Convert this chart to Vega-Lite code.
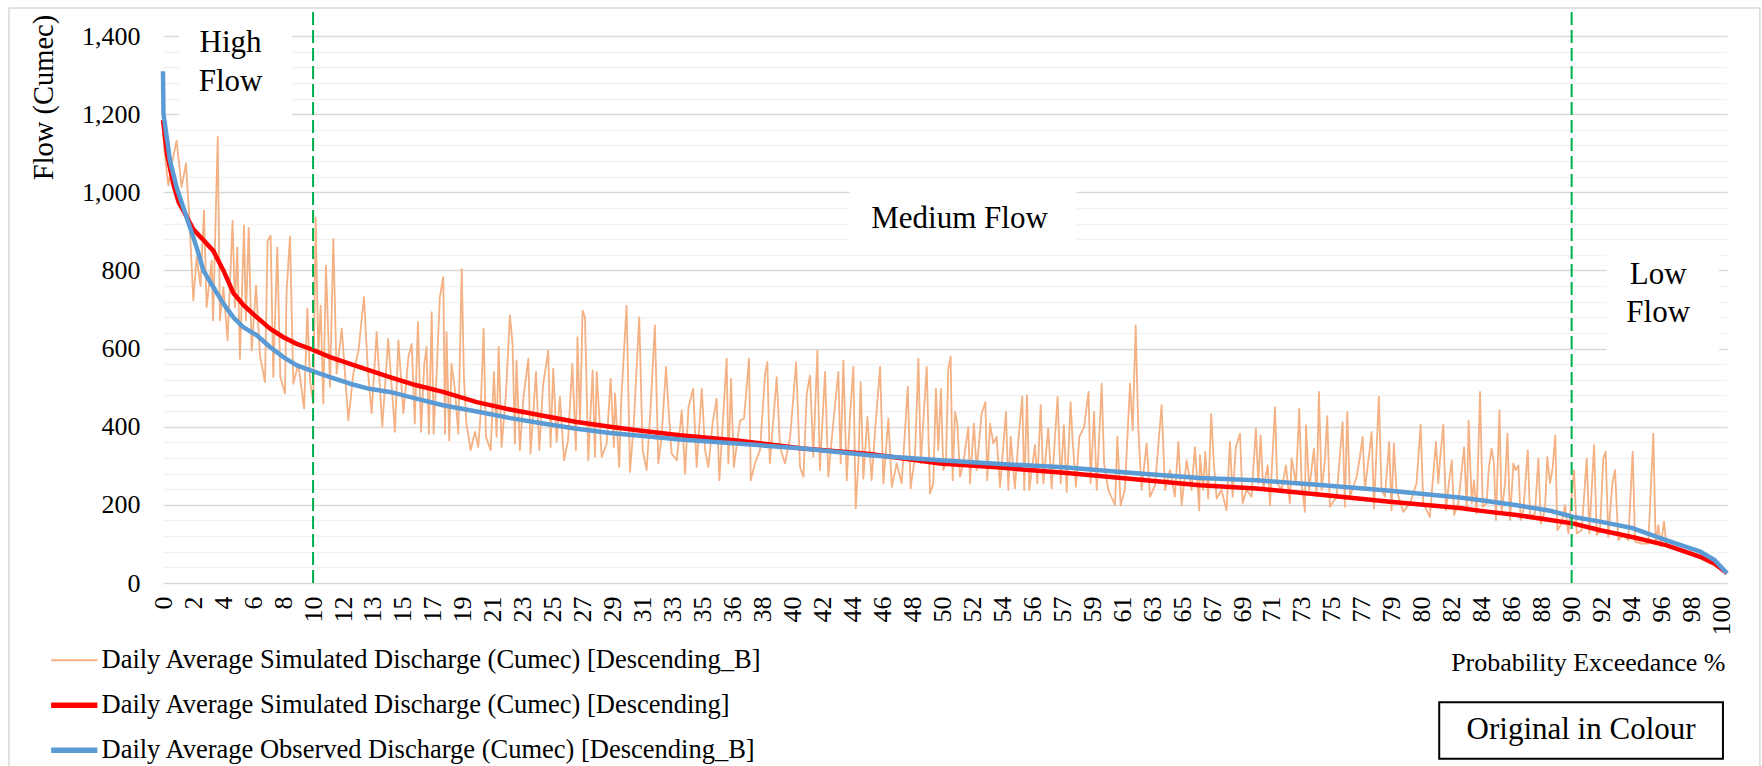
{
"$schema": "https://vega.github.io/schema/vega-lite/v6.json",
"width": 1564, "height": 547,
"autosize": {"type": "none"},
"padding": {"left": 163, "top": 36, "right": 35, "bottom": 183},
"background": "white",
"config": {"view": {"stroke": null}, "font": "Liberation Serif"},
"datasets": {
"flow": [
{"p":0,"q":1150,"s":"B"},{"p":0.15,"q":1085,"s":"B"},{"p":0.34,"q":1017,"s":"B"},{"p":0.55,"q":1070,"s":"B"},{"p":0.87,"q":1132,"s":"B"},{"p":1.19,"q":1013,"s":"B"},{"p":1.47,"q":1074,"s":"B"},{"p":1.68,"q":936,"s":"B"},{"p":1.94,"q":723,"s":"B"},{"p":2.15,"q":834,"s":"B"},{"p":2.4,"q":760,"s":"B"},{"p":2.62,"q":953,"s":"B"},{"p":2.79,"q":706,"s":"B"},{"p":3.11,"q":825,"s":"B"},{"p":3.2,"q":672,"s":"B"},{"p":3.5,"q":1142,"s":"B"},{"p":3.64,"q":672,"s":"B"},{"p":3.86,"q":757,"s":"B"},{"p":4.13,"q":621,"s":"B"},{"p":4.45,"q":927,"s":"B"},{"p":4.6,"q":706,"s":"B"},{"p":4.75,"q":859,"s":"B"},{"p":4.92,"q":574,"s":"B"},{"p":5.18,"q":915,"s":"B"},{"p":5.3,"q":672,"s":"B"},{"p":5.48,"q":909,"s":"B"},{"p":5.67,"q":595,"s":"B"},{"p":5.95,"q":761,"s":"B"},{"p":6.2,"q":583,"s":"B"},{"p":6.52,"q":514,"s":"B"},{"p":6.69,"q":875,"s":"B"},{"p":6.88,"q":889,"s":"B"},{"p":7.05,"q":527,"s":"B"},{"p":7.31,"q":859,"s":"B"},{"p":7.5,"q":527,"s":"B"},{"p":7.8,"q":485,"s":"B"},{"p":7.9,"q":744,"s":"B"},{"p":8.12,"q":887,"s":"B"},{"p":8.33,"q":510,"s":"B"},{"p":8.65,"q":561,"s":"B"},{"p":9.02,"q":446,"s":"B"},{"p":9.23,"q":702,"s":"B"},{"p":9.4,"q":519,"s":"B"},{"p":9.61,"q":459,"s":"B"},{"p":9.76,"q":936,"s":"B"},{"p":9.93,"q":587,"s":"B"},{"p":10.08,"q":710,"s":"B"},{"p":10.25,"q":459,"s":"B"},{"p":10.42,"q":812,"s":"B"},{"p":10.68,"q":502,"s":"B"},{"p":10.89,"q":881,"s":"B"},{"p":11.1,"q":536,"s":"B"},{"p":11.43,"q":651,"s":"B"},{"p":11.85,"q":416,"s":"B"},{"p":12.17,"q":536,"s":"B"},{"p":12.5,"q":595,"s":"B"},{"p":12.85,"q":732,"s":"B"},{"p":13.1,"q":544,"s":"B"},{"p":13.34,"q":434,"s":"B"},{"p":13.66,"q":642,"s":"B"},{"p":14.02,"q":400,"s":"B"},{"p":14.4,"q":625,"s":"B"},{"p":14.83,"q":387,"s":"B"},{"p":15.05,"q":621,"s":"B"},{"p":15.37,"q":434,"s":"B"},{"p":15.69,"q":578,"s":"B"},
{"p":15.9,"q":612,"s":"B"},{"p":16.1,"q":408,"s":"B"},{"p":16.3,"q":668,"s":"B"},{"p":16.5,"q":387,"s":"B"},{"p":16.7,"q":557,"s":"B"},{"p":16.85,"q":604,"s":"B"},{"p":17.0,"q":382,"s":"B"},{"p":17.18,"q":693,"s":"B"},{"p":17.3,"q":382,"s":"B"},{"p":17.5,"q":540,"s":"B"},{"p":17.7,"q":731,"s":"B"},{"p":17.92,"q":783,"s":"B"},{"p":18.03,"q":382,"s":"B"},{"p":18.13,"q":642,"s":"B"},{"p":18.3,"q":365,"s":"B"},{"p":18.45,"q":561,"s":"B"},{"p":18.67,"q":493,"s":"B"},{"p":18.88,"q":382,"s":"B"},{"p":19.1,"q":804,"s":"B"},{"p":19.24,"q":527,"s":"B"},{"p":19.4,"q":408,"s":"B"},{"p":19.67,"q":340,"s":"B"},{"p":19.95,"q":387,"s":"B"},{"p":20.16,"q":348,"s":"B"},{"p":20.3,"q":429,"s":"B"},{"p":20.5,"q":651,"s":"B"},{"p":20.65,"q":374,"s":"B"},{"p":20.95,"q":340,"s":"B"},{"p":21.16,"q":540,"s":"B"},{"p":21.33,"q":374,"s":"B"},{"p":21.46,"q":604,"s":"B"},{"p":21.65,"q":348,"s":"B"},{"p":21.93,"q":485,"s":"B"},{"p":22.18,"q":685,"s":"B"},{"p":22.35,"q":612,"s":"B"},{"p":22.5,"q":357,"s":"B"},{"p":22.6,"q":570,"s":"B"},{"p":22.82,"q":340,"s":"B"},{"p":23.04,"q":472,"s":"B"},{"p":23.36,"q":574,"s":"B"},{"p":23.5,"q":331,"s":"B"},{"p":23.85,"q":540,"s":"B"},{"p":24.06,"q":340,"s":"B"},{"p":24.3,"q":506,"s":"B"},{"p":24.63,"q":595,"s":"B"},{"p":24.78,"q":348,"s":"B"},{"p":24.95,"q":548,"s":"B"},{"p":25.17,"q":361,"s":"B"},{"p":25.38,"q":476,"s":"B"},{"p":25.64,"q":314,"s":"B"},{"p":25.9,"q":365,"s":"B"},{"p":26.17,"q":561,"s":"B"},{"p":26.4,"q":340,"s":"B"},{"p":26.5,"q":629,"s":"B"},{"p":26.66,"q":408,"s":"B"},{"p":26.83,"q":697,"s":"B"},{"p":26.98,"q":680,"s":"B"},{"p":27.19,"q":314,"s":"B"},{"p":27.47,"q":544,"s":"B"},{"p":27.62,"q":323,"s":"B"},{"p":27.73,"q":540,"s":"B"},{"p":28.05,"q":323,"s":"B"},{"p":28.37,"q":357,"s":"B"},{"p":28.62,"q":523,"s":"B"},{"p":28.83,"q":348,"s":"B"},{"p":28.9,"q":485,"s":"B"},{"p":29.17,"q":297,"s":"B"},{"p":29.3,"q":468,"s":"B"},{"p":29.64,"q":710,"s":"B"},{"p":29.86,"q":284,"s":"B"},{"p":30.1,"q":408,"s":"B"},{"p":30.45,"q":680,"s":"B"},{"p":30.67,"q":340,"s":"B"},{"p":30.92,"q":289,"s":"B"},{"p":31.18,"q":450,"s":"B"},{"p":31.45,"q":659,"s":"B"},{"p":31.67,"q":306,"s":"B"},{"p":31.88,"q":374,"s":"B"},{"p":32.16,"q":553,"s":"B"},{"p":32.33,"q":442,"s":"B"},{"p":32.52,"q":331,"s":"B"},
{"p":32.85,"q":314,"s":"B"},{"p":33.17,"q":442,"s":"B"},{"p":33.38,"q":280,"s":"B"},{"p":33.6,"q":450,"s":"B"},{"p":33.9,"q":497,"s":"B"},{"p":34.12,"q":297,"s":"B"},{"p":34.45,"q":497,"s":"B"},{"p":34.66,"q":340,"s":"B"},{"p":34.87,"q":297,"s":"B"},{"p":35.15,"q":412,"s":"B"},{"p":35.4,"q":472,"s":"B"},{"p":35.57,"q":263,"s":"B"},{"p":35.8,"q":412,"s":"B"},{"p":36.04,"q":574,"s":"B"},{"p":36.15,"q":306,"s":"B"},{"p":36.32,"q":523,"s":"B"},{"p":36.5,"q":297,"s":"B"},{"p":36.9,"q":416,"s":"B"},{"p":37.15,"q":421,"s":"B"},{"p":37.47,"q":574,"s":"B"},{"p":37.58,"q":263,"s":"B"},{"p":37.85,"q":306,"s":"B"},{"p":38.17,"q":340,"s":"B"},{"p":38.5,"q":536,"s":"B"},{"p":38.64,"q":565,"s":"B"},{"p":38.8,"q":306,"s":"B"},{"p":39.24,"q":527,"s":"B"},{"p":39.45,"q":348,"s":"B"},{"p":39.77,"q":306,"s":"B"},{"p":40.1,"q":374,"s":"B"},{"p":40.48,"q":565,"s":"B"},{"p":40.73,"q":297,"s":"B"},{"p":40.95,"q":272,"s":"B"},{"p":41.16,"q":485,"s":"B"},{"p":41.37,"q":531,"s":"B"},{"p":41.58,"q":323,"s":"B"},{"p":41.84,"q":595,"s":"B"},{"p":42.0,"q":289,"s":"B"},{"p":42.33,"q":540,"s":"B"},{"p":42.54,"q":272,"s":"B"},{"p":42.86,"q":412,"s":"B"},{"p":43.18,"q":540,"s":"B"},{"p":43.33,"q":306,"s":"B"},{"p":43.5,"q":570,"s":"B"},{"p":43.72,"q":263,"s":"B"},{"p":43.93,"q":429,"s":"B"},{"p":44.14,"q":553,"s":"B"},{"p":44.29,"q":191,"s":"B"},{"p":44.46,"q":306,"s":"B"},{"p":44.61,"q":514,"s":"B"},{"p":44.78,"q":267,"s":"B"},{"p":45.04,"q":425,"s":"B"},{"p":45.31,"q":263,"s":"B"},{"p":45.53,"q":391,"s":"B"},{"p":45.85,"q":553,"s":"B"},{"p":46.06,"q":255,"s":"B"},{"p":46.38,"q":421,"s":"B"},{"p":46.6,"q":246,"s":"B"},{"p":46.91,"q":306,"s":"B"},{"p":47.23,"q":255,"s":"B"},{"p":47.62,"q":502,"s":"B"},{"p":47.8,"q":242,"s":"B"},{"p":48.08,"q":323,"s":"B"},{"p":48.3,"q":574,"s":"B"},{"p":48.45,"q":306,"s":"B"},{"p":48.83,"q":553,"s":"B"},{"p":49.04,"q":229,"s":"B"},
{"p":49.25,"q":255,"s":"B"},{"p":49.42,"q":497,"s":"B"},{"p":49.57,"q":340,"s":"B"},{"p":49.74,"q":497,"s":"B"},{"p":49.89,"q":289,"s":"B"},{"p":50.06,"q":306,"s":"B"},{"p":50.21,"q":548,"s":"B"},{"p":50.36,"q":580,"s":"B"},{"p":50.49,"q":263,"s":"B"},{"p":50.64,"q":438,"s":"B"},{"p":50.79,"q":408,"s":"B"},{"p":50.96,"q":272,"s":"B"},{"p":51.17,"q":306,"s":"B"},{"p":51.49,"q":399,"s":"B"},{"p":51.6,"q":255,"s":"B"},{"p":51.85,"q":408,"s":"B"},{"p":52.02,"q":289,"s":"B"},{"p":52.34,"q":433,"s":"B"},{"p":52.58,"q":463,"s":"B"},{"p":52.7,"q":263,"s":"B"},{"p":52.88,"q":408,"s":"B"},{"p":53.09,"q":357,"s":"B"},{"p":53.3,"q":374,"s":"B"},{"p":53.52,"q":246,"s":"B"},{"p":53.9,"q":438,"s":"B"},{"p":54.05,"q":238,"s":"B"},{"p":54.2,"q":374,"s":"B"},{"p":54.47,"q":242,"s":"B"},{"p":54.71,"q":374,"s":"B"},{"p":54.94,"q":478,"s":"B"},{"p":55.07,"q":238,"s":"B"},{"p":55.24,"q":480,"s":"B"},{"p":55.39,"q":238,"s":"B"},{"p":55.75,"q":353,"s":"B"},{"p":55.9,"q":255,"s":"B"},{"p":56.12,"q":455,"s":"B"},{"p":56.29,"q":255,"s":"B"},{"p":56.6,"q":395,"s":"B"},{"p":56.82,"q":242,"s":"B"},{"p":57.2,"q":476,"s":"B"},{"p":57.4,"q":255,"s":"B"},{"p":57.6,"q":404,"s":"B"},{"p":57.78,"q":233,"s":"B"},{"p":58.03,"q":463,"s":"B"},{"p":58.16,"q":365,"s":"B"},{"p":58.37,"q":246,"s":"B"},{"p":58.59,"q":374,"s":"B"},{"p":58.89,"q":399,"s":"B"},{"p":59.18,"q":489,"s":"B"},{"p":59.31,"q":255,"s":"B"},{"p":59.53,"q":438,"s":"B"},{"p":59.7,"q":238,"s":"B"},{"p":60.02,"q":510,"s":"B"},{"p":60.17,"q":306,"s":"B"},{"p":60.44,"q":238,"s":"B"},{"p":60.87,"q":199,"s":"B"},{"p":61.02,"q":374,"s":"B"},{"p":61.23,"q":199,"s":"B"},{"p":61.5,"q":238,"s":"B"},{"p":61.83,"q":510,"s":"B"},{"p":62.0,"q":391,"s":"B"},{"p":62.19,"q":659,"s":"B"},{"p":62.36,"q":395,"s":"B"},{"p":62.57,"q":238,"s":"B"},{"p":62.89,"q":357,"s":"B"},{"p":63.11,"q":221,"s":"B"},{"p":63.43,"q":250,"s":"B"},{"p":63.85,"q":455,"s":"B"},{"p":64.07,"q":238,"s":"B"},{"p":64.39,"q":289,"s":"B"},{"p":64.7,"q":221,"s":"B"},{"p":64.92,"q":361,"s":"B"},{"p":65.13,"q":199,"s":"B"},{"p":65.45,"q":314,"s":"B"},{"p":65.77,"q":238,"s":"B"},{"p":65.98,"q":348,"s":"B"},{"p":66.26,"q":186,"s":"B"},
{"p":66.3,"q":327,"s":"B"},{"p":66.51,"q":238,"s":"B"},{"p":66.64,"q":336,"s":"B"},{"p":66.83,"q":216,"s":"B"},{"p":67.02,"q":433,"s":"B"},{"p":67.19,"q":306,"s":"B"},{"p":67.37,"q":216,"s":"B"},{"p":67.68,"q":238,"s":"B"},{"p":68.0,"q":186,"s":"B"},{"p":68.22,"q":361,"s":"B"},{"p":68.39,"q":221,"s":"B"},{"p":68.6,"q":348,"s":"B"},{"p":68.86,"q":382,"s":"B"},{"p":69.03,"q":204,"s":"B"},{"p":69.28,"q":238,"s":"B"},{"p":69.6,"q":221,"s":"B"},{"p":69.88,"q":395,"s":"B"},{"p":70.03,"q":255,"s":"B"},{"p":70.18,"q":378,"s":"B"},{"p":70.35,"q":238,"s":"B"},{"p":70.63,"q":301,"s":"B"},{"p":70.78,"q":199,"s":"B"},{"p":71.1,"q":450,"s":"B"},{"p":71.24,"q":255,"s":"B"},{"p":71.52,"q":238,"s":"B"},{"p":71.8,"q":301,"s":"B"},{"p":72.05,"q":204,"s":"B"},{"p":72.16,"q":319,"s":"B"},{"p":72.44,"q":255,"s":"B"},{"p":72.65,"q":446,"s":"B"},{"p":72.8,"q":255,"s":"B"},{"p":73.01,"q":182,"s":"B"},{"p":73.08,"q":404,"s":"B"},{"p":73.29,"q":238,"s":"B"},{"p":73.59,"q":344,"s":"B"},{"p":73.76,"q":221,"s":"B"},{"p":73.91,"q":489,"s":"B"},{"p":74.08,"q":238,"s":"B"},{"p":74.29,"q":314,"s":"B"},{"p":74.44,"q":427,"s":"B"},{"p":74.61,"q":195,"s":"B"},{"p":75.04,"q":221,"s":"B"},{"p":75.42,"q":412,"s":"B"},{"p":75.57,"q":195,"s":"B"},{"p":75.72,"q":438,"s":"B"},{"p":75.89,"q":221,"s":"B"},{"p":76.32,"q":272,"s":"B"},{"p":76.53,"q":323,"s":"B"},{"p":76.7,"q":374,"s":"B"},{"p":76.85,"q":238,"s":"B"},{"p":77.28,"q":387,"s":"B"},{"p":77.43,"q":191,"s":"B"},{"p":77.74,"q":476,"s":"B"},{"p":77.91,"q":238,"s":"B"},{"p":78.13,"q":221,"s":"B"},{"p":78.4,"q":361,"s":"B"},{"p":78.55,"q":186,"s":"B"},{"p":78.7,"q":357,"s":"B"},{"p":78.87,"q":238,"s":"B"},{"p":79.3,"q":182,"s":"B"},{"p":79.73,"q":204,"s":"B"},{"p":80.15,"q":255,"s":"B"},{"p":80.41,"q":405,"s":"B"},{"p":80.58,"q":204,"s":"B"},{"p":81.0,"q":169,"s":"B"},{"p":81.39,"q":361,"s":"B"},{"p":81.54,"q":255,"s":"B"},{"p":81.65,"q":314,"s":"B"},{"p":81.86,"q":406,"s":"B"},{"p":82.03,"q":186,"s":"B"},{"p":82.2,"q":250,"s":"B"},
{"p":82.4,"q":314,"s":"B"},{"p":82.55,"q":174,"s":"B"},{"p":82.82,"q":204,"s":"B"},{"p":83.19,"q":348,"s":"B"},{"p":83.36,"q":186,"s":"B"},{"p":83.48,"q":415,"s":"B"},{"p":83.68,"q":204,"s":"B"},{"p":83.82,"q":263,"s":"B"},{"p":83.99,"q":178,"s":"B"},{"p":84.21,"q":489,"s":"B"},{"p":84.38,"q":195,"s":"B"},{"p":84.63,"q":204,"s":"B"},{"p":84.78,"q":297,"s":"B"},{"p":84.95,"q":344,"s":"B"},{"p":85.1,"q":306,"s":"B"},{"p":85.23,"q":161,"s":"B"},{"p":85.45,"q":442,"s":"B"},{"p":85.59,"q":178,"s":"B"},{"p":85.81,"q":255,"s":"B"},{"p":85.96,"q":382,"s":"B"},{"p":86.13,"q":161,"s":"B"},{"p":86.34,"q":306,"s":"B"},{"p":86.49,"q":289,"s":"B"},{"p":86.66,"q":301,"s":"B"},{"p":86.81,"q":161,"s":"B"},{"p":86.98,"q":186,"s":"B"},{"p":87.26,"q":340,"s":"B"},{"p":87.41,"q":169,"s":"B"},{"p":87.72,"q":178,"s":"B"},{"p":87.94,"q":319,"s":"B"},{"p":88.09,"q":152,"s":"B"},{"p":88.36,"q":186,"s":"B"},{"p":88.51,"q":323,"s":"B"},{"p":88.68,"q":255,"s":"B"},{"p":88.85,"q":293,"s":"B"},{"p":89.02,"q":378,"s":"B"},{"p":89.15,"q":135,"s":"B"},{"p":89.43,"q":152,"s":"B"},{"p":89.64,"q":199,"s":"B"},{"p":89.86,"q":127,"s":"B"},{"p":90.22,"q":289,"s":"B"},{"p":90.39,"q":127,"s":"B"},{"p":90.71,"q":135,"s":"B"},{"p":91.03,"q":319,"s":"B"},{"p":91.2,"q":127,"s":"B"},{"p":91.5,"q":353,"s":"B"},{"p":91.67,"q":123,"s":"B"},{"p":91.88,"q":135,"s":"B"},{"p":92.09,"q":319,"s":"B"},{"p":92.24,"q":336,"s":"B"},{"p":92.41,"q":118,"s":"B"},{"p":92.67,"q":255,"s":"B"},{"p":92.84,"q":289,"s":"B"},{"p":93.05,"q":110,"s":"B"},{"p":93.37,"q":123,"s":"B"},{"p":93.69,"q":110,"s":"B"},{"p":93.97,"q":336,"s":"B"},{"p":94.12,"q":106,"s":"B"},{"p":94.55,"q":101,"s":"B"},{"p":94.97,"q":101,"s":"B"},{"p":95.29,"q":382,"s":"B"},{"p":95.44,"q":101,"s":"B"},{"p":95.61,"q":148,"s":"B"},{"p":95.76,"q":93,"s":"B"},{"p":95.97,"q":157,"s":"B"},{"p":96.14,"q":93,"s":"B"},{"p":97.21,"q":80,"s":"B"},{"p":98.27,"q":63,"s":"B"},{"p":99.34,"q":42,"s":"B"},{"p":100,"q":25,"s":"B"},
{"p":0,"q":1185,"s":"S"},{"p":0.25,"q":1100,"s":"S"},{"p":0.66,"q":1021,"s":"S"},{"p":1.0,"q":975,"s":"S"},{"p":1.3,"q":953,"s":"S"},{"p":1.94,"q":905,"s":"S"},{"p":2.58,"q":878,"s":"S"},{"p":3.22,"q":850,"s":"S"},{"p":3.86,"q":800,"s":"S"},{"p":4.5,"q":742,"s":"S"},{"p":5.13,"q":712,"s":"S"},{"p":6.0,"q":680,"s":"S"},{"p":6.84,"q":651,"s":"S"},{"p":7.7,"q":629,"s":"S"},{"p":8.55,"q":612,"s":"S"},{"p":9.57,"q":597,"s":"S"},{"p":10.68,"q":578,"s":"S"},{"p":11.96,"q":561,"s":"S"},{"p":13.2,"q":544,"s":"S"},{"p":14.5,"q":527,"s":"S"},{"p":16.2,"q":506,"s":"S"},{"p":17.9,"q":489,"s":"S"},{"p":20.06,"q":463,"s":"S"},{"p":22.2,"q":444,"s":"S"},{"p":24.3,"q":428,"s":"S"},{"p":26.45,"q":412,"s":"S"},{"p":28.58,"q":400,"s":"S"},{"p":30.7,"q":389,"s":"S"},{"p":33.06,"q":378,"s":"S"},{"p":36.7,"q":365,"s":"S"},{"p":40.9,"q":344,"s":"S"},{"p":45.2,"q":330,"s":"S"},{"p":49.7,"q":306,"s":"S"},{"p":53.3,"q":296,"s":"S"},{"p":57.6,"q":282,"s":"S"},{"p":61.8,"q":267,"s":"S"},{"p":66.3,"q":250,"s":"S"},{"p":69.9,"q":242,"s":"S"},{"p":74.2,"q":225,"s":"S"},{"p":78.45,"q":208,"s":"S"},{"p":82.9,"q":192,"s":"S"},{"p":84.4,"q":184,"s":"S"},{"p":86.55,"q":174,"s":"S"},{"p":88.7,"q":161,"s":"S"},{"p":90.2,"q":152,"s":"S"},{"p":91.9,"q":135,"s":"S"},{"p":94.0,"q":117,"s":"S"},{"p":96.1,"q":97,"s":"S"},{"p":98.3,"q":67,"s":"S"},{"p":99.2,"q":50,"s":"S"},{"p":100,"q":25,"s":"S"},
{"p":0,"q":1310,"s":"O"},{"p":0.03,"q":1200,"s":"O"},{"p":0.45,"q":1081,"s":"O"},{"p":0.87,"q":1013,"s":"O"},{"p":1.3,"q":961,"s":"O"},{"p":1.73,"q":910,"s":"O"},{"p":2.15,"q":859,"s":"O"},{"p":2.58,"q":800,"s":"O"},{"p":3.22,"q":757,"s":"O"},{"p":3.86,"q":715,"s":"O"},{"p":4.5,"q":680,"s":"O"},{"p":5.13,"q":655,"s":"O"},{"p":6.0,"q":634,"s":"O"},{"p":6.84,"q":604,"s":"O"},{"p":7.7,"q":578,"s":"O"},{"p":8.55,"q":557,"s":"O"},{"p":9.57,"q":542,"s":"O"},{"p":10.68,"q":527,"s":"O"},{"p":11.96,"q":510,"s":"O"},{"p":13.2,"q":497,"s":"O"},{"p":14.5,"q":489,"s":"O"},{"p":16.2,"q":472,"s":"O"},{"p":17.9,"q":455,"s":"O"},{"p":20.06,"q":439,"s":"O"},{"p":22.2,"q":422,"s":"O"},{"p":24.3,"q":408,"s":"O"},{"p":26.45,"q":395,"s":"O"},{"p":28.58,"q":384,"s":"O"},{"p":30.7,"q":376,"s":"O"},{"p":33.06,"q":367,"s":"O"},{"p":36.7,"q":357,"s":"O"},{"p":40.9,"q":344,"s":"O"},{"p":45.2,"q":327,"s":"O"},{"p":49.7,"q":314,"s":"O"},{"p":53.3,"q":305,"s":"O"},{"p":57.6,"q":296,"s":"O"},{"p":61.8,"q":282,"s":"O"},{"p":66.3,"q":269,"s":"O"},{"p":69.9,"q":263,"s":"O"},{"p":74.2,"q":250,"s":"O"},{"p":78.45,"q":236,"s":"O"},{"p":82.9,"q":219,"s":"O"},{"p":84.4,"q":211,"s":"O"},{"p":86.55,"q":199,"s":"O"},{"p":88.7,"q":185,"s":"O"},{"p":90.2,"q":169,"s":"O"},{"p":91.9,"q":157,"s":"O"},{"p":94.0,"q":140,"s":"O"},{"p":96.1,"q":110,"s":"O"},{"p":98.3,"q":80,"s":"O"},{"p":99.2,"q":59,"s":"O"},{"p":100,"q":25,"s":"O"}
]},
"encoding": {
  "x": {"field": "p", "type": "quantitative",
    "scale": {"domain": [0, 100], "nice": false, "zero": false},
    "axis": {"values": [0.015,1.931,3.847,5.763,7.679,9.595,11.511,13.427,15.343,17.259,19.175,21.091,23.007,24.923,26.839,28.755,30.671,32.587,34.503,36.419,38.335,40.251,42.167,44.083,45.999,47.915,49.831,51.747,53.663,55.579,57.495,59.411,61.327,63.243,65.159,67.075,68.991,70.907,72.823,74.739,76.655,78.571,80.487,82.403,84.319,86.235,88.151,90.067,91.983,93.899,95.815,97.731,99.647],
      "format": ".0f", "labelAngle": -90, "labelAlign": "right", "labelBaseline": "middle", "labelPadding": 13,
      "ticks": false, "domain": false, "grid": false, "labelOverlap": false, "labelFlush": false,
      "labelFont": "Liberation Serif", "labelFontSize": 26, "labelColor": "#000",
      "title": "Probability Exceedance %", "titleFont": "Liberation Serif", "titleFontSize": 26, "titleFontWeight": "normal", "titleColor": "#000",
      "titleX": 1562, "titleY": 79, "titleAlign": "right", "titleBaseline": "middle"}},
  "y": {"field": "q", "type": "quantitative",
    "scale": {"domain": [0, 1400], "nice": false},
    "axis": {"values": [0,40,80,120,160,200,240,280,320,360,400,440,480,520,560,600,640,680,720,760,800,840,880,920,960,1000,1040,1080,1120,1160,1200,1240,1280,1320,1360,1400],
      "labelExpr": "datum.value % 200 === 0 ? format(datum.value, ',') : ''",
      "gridColor": {"condition": {"test": "datum.value % 200 === 0", "value": "#d9d9d9"}, "value": "#f2f2f2"},
      "gridWidth": 1.5, "domain": false, "ticks": false, "labelPadding": 23, "labelOverlap": false,
      "labelFont": "Liberation Serif", "labelFontSize": 26, "labelColor": "#000",
      "title": "Flow (Cumec)", "titleFont": "Liberation Serif", "titleFontSize": 28.5, "titleFontWeight": "normal", "titleColor": "#000",
      "titleX": -120, "titleY": 61, "titleAngle": 270, "titleAlign": "center", "titleBaseline": "middle"}}
},
"layer": [
  {"data": {"values": [{"p": -9.85, "p2": 102.1, "q": 1471.6, "q2": -503}]},
   "mark": {"type": "rect", "fill": "white", "fillOpacity": 0, "stroke": "#d9d9d9", "strokeWidth": 1.5},
   "encoding": {"x2": {"field": "p2"}, "y2": {"field": "q2"}}},
  {"data": {"values": [{"p": 1.02, "p2": 8.25, "q": 1180, "q2": 1410}, {"p": 43.9, "p2": 58.4, "q": 850, "q2": 1020}, {"p": 92.3, "p2": 99.5, "q": 585, "q2": 850}]},
   "mark": {"type": "rect", "fill": "white"},
   "encoding": {"x2": {"field": "p2"}, "y2": {"field": "q2"}}},
  {"data": {"name": "flow"}, "transform": [{"filter": "datum.s === 'B'"}],
   "mark": {"type": "line", "strokeWidth": 1.8, "strokeJoin": "round"},
   "encoding": {"color": {"field": "s", "type": "nominal", "scale": {"domain": ["B", "S", "O"], "range": ["#F4B183", "#FF0000", "#5B9BD5"]},
     "legend": {"title": null, "orient": "none", "legendX": -102, "legendY": 611, "direction": "vertical",
       "labelFont": "Liberation Serif", "labelFontSize": 26.5, "labelColor": "#000", "labelLimit": 1000,
       "symbolType": "M-2.2,0H2.2", "symbolSize": 441, "labelOffset": 14, "rowPadding": 18, "padding": 0,
       "labelExpr": "datum.label === 'B' ? 'Daily Average Simulated Discharge (Cumec) [Descending_B]' : datum.label === 'S' ? 'Daily Average Simulated Discharge (Cumec) [Descending]' : 'Daily Average Observed Discharge (Cumec) [Descending_B]'",
       "encode": {"symbols": {"update": {"strokeWidth": {"signal": "datum.value === 'B' ? 2.2 : 5.5"}}}}}}}},
  {"data": {"name": "flow"}, "transform": [{"filter": "datum.s === 'S'"}],
   "mark": {"type": "line", "strokeWidth": 4.5, "strokeJoin": "round"},
   "encoding": {"color": {"field": "s", "type": "nominal", "legend": null}}},
  {"data": {"name": "flow"}, "transform": [{"filter": "datum.s === 'O'"}],
   "mark": {"type": "line", "strokeWidth": 4.5, "strokeJoin": "round"},
   "encoding": {"color": {"field": "s", "type": "nominal", "legend": null}}},
  {"data": {"values": [{"p": 9.595, "q": 0, "q2": 1465}, {"p": 90.067, "q": 0, "q2": 1465}]},
   "mark": {"type": "rule", "color": "#00B050", "strokeWidth": 2, "strokeDash": [13, 5]},
   "encoding": {"y2": {"field": "q2"}}},
  {"data": {"values": [{"p": 4.32, "q": 1382}]},
   "mark": {"type": "text", "text": ["High", "Flow"], "font": "Liberation Serif", "fontSize": 31, "lineHeight": 39, "align": "center", "baseline": "middle", "color": "#000"}},
  {"data": {"values": [{"p": 50.93, "q": 932}]},
   "mark": {"type": "text", "text": "Medium Flow", "font": "Liberation Serif", "fontSize": 31, "align": "center", "baseline": "middle", "color": "#000"}},
  {"data": {"values": [{"p": 95.6, "q": 788}]},
   "mark": {"type": "text", "text": ["Low", "Flow"], "font": "Liberation Serif", "fontSize": 31, "lineHeight": 38, "align": "center", "baseline": "middle", "color": "#000"}},
  {"data": {"values": [{"p": 81.6, "p2": 99.74, "q": -305, "q2": -450}]},
   "mark": {"type": "rect", "fill": "white", "stroke": "#000", "strokeWidth": 2},
   "encoding": {"x2": {"field": "p2"}, "y2": {"field": "q2"}}},
  {"data": {"values": [{"p": 90.67, "q": -377}]},
   "mark": {"type": "text", "text": "Original in Colour", "font": "Liberation Serif", "fontSize": 31, "align": "center", "baseline": "middle", "color": "#000"}}
]
}
